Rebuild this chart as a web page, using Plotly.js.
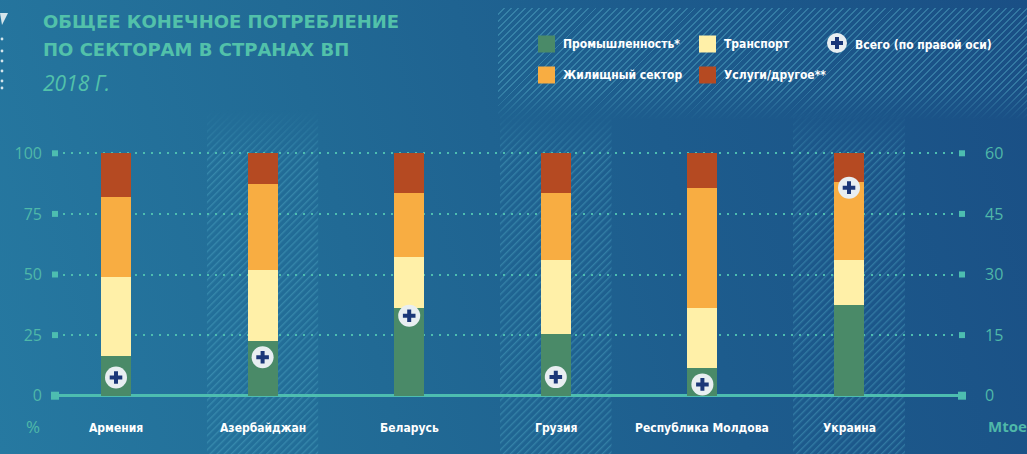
<!DOCTYPE html>
<html>
<head>
<meta charset="utf-8">
<script src="https://cdn.plot.ly/plotly-3.0.1.min.js"></script>
<style>
html,body{margin:0;padding:0;width:1027px;height:454px;overflow:hidden;}
body{position:relative;background:linear-gradient(75deg,#2679a1 0%,#216a95 35%,#1d5c8d 65%,#1a4f85 100%);}
#hatch{position:absolute;left:498px;top:8px;width:529px;height:112px;
 background:repeating-linear-gradient(135deg,rgba(0,0,0,0) 0px,rgba(0,0,0,0) 3.6px,rgba(90,180,205,0.40) 3.6px,rgba(90,180,205,0.40) 5px);
 -webkit-mask-image:linear-gradient(to bottom,#000 0%,#000 72%,rgba(0,0,0,0) 100%);
 mask-image:linear-gradient(to bottom,#000 0%,#000 72%,rgba(0,0,0,0) 100%);}
#deco{position:absolute;left:0;top:0;}
#chart{position:absolute;left:0;top:0;width:1027px;height:454px;}
</style>
</head>
<body>
<div id="hatch"></div>
<svg id="deco" width="20" height="100">
  <polygon points="0,13 8,13 2,25" fill="#d5e6ec"/>
  <circle cx="2" cy="39" r="1.4" fill="#d5e6ec"/>
  <circle cx="2" cy="51" r="1.4" fill="#d5e6ec"/>
  <circle cx="2" cy="61" r="1.4" fill="#d5e6ec"/>
  <circle cx="2" cy="71" r="1.4" fill="#d5e6ec"/>
  <circle cx="2" cy="81" r="1.4" fill="#d5e6ec"/>
  <circle cx="2" cy="88" r="1.4" fill="#d5e6ec"/>
</svg>
<div id="chart"></div>
<script>
// ---- data ----
const categories = ['Армения','Азербайджан','Беларусь','Грузия','Республика Молдова','Украина'];
const industry    = [16.4, 22.6, 36.2, 25.5, 11.4, 37.4];
const transport   = [32.6, 29.3, 21.0, 30.5, 24.8, 18.6];
const residential = [33.0, 35.4, 26.4, 27.6, 49.5, 32.2];
const services    = [18.0, 12.7, 16.4, 16.4, 14.3, 11.8];
const totalMtoe   = [4.5, 9.5, 19.8, 4.6, 2.8, 51.5];
const seriesNames = ['Промышленность*','Транспорт','Жилищный сектор','Услуги/другое**'];
const totalName = 'Всего (по правой оси)';
const pctTicks = [0,25,50,75,100];
const mtoeTicks = [0,15,30,45,60];
const hatchedCategories = ['Азербайджан','Грузия','Украина'];
const titleLines = ['ОБЩЕЕ КОНЕЧНОЕ ПОТРЕБЛЕНИЕ','ПО СЕКТОРАМ В СТРАНАХ ВП'];
const subtitle = '2018 Г.';
const leftUnit = '%';
const rightUnit = 'Mtoe';

// ---- styling ----
const colors = ['#4a8a68','#fff0a8','#f8ad42','#b54a22'];
const teal = '#4dbdb0';
const tickColor = '#4fb8a9';
const titleColor = '#52c1aa';
const labelFont = 'DejaVu Sans Condensed, DejaVu Sans, sans-serif';

const W = 1027, H = 454, L = 55, R = 65, T = 110, B = 0;
const pw = W - L - R, ph = H - T - B;
const px = x => (x - L) / pw;
const py = y => 1 - (y - T) / ph;

const seriesVals = [industry, transport, residential, services];
const traces = seriesVals.map((vals, i) => ({
  type:'bar', x:categories, y:vals, name:seriesNames[i], width:0.205,
  marker:{color:colors[i], line:{width:0}}, showlegend:false, hoverinfo:'skip'
}));
traces.push({type:'scatter', mode:'markers', x:categories, y:totalMtoe, yaxis:'y2', name:totalName,
  marker:{symbol:'circle', size:22, color:'#e8eef1', line:{width:0}}, cliponaxis:false, showlegend:false, hoverinfo:'skip'});
traces.push({type:'scatter', mode:'markers', x:categories, y:totalMtoe, yaxis:'y2', name:totalName,
  marker:{symbol:'cross-thin', size:9, color:'#1b3778', line:{width:4, color:'#1b3778'}}, cliponaxis:false, showlegend:false, hoverinfo:'skip'});

// hatch band image
const bandW = 112, bandH = ph;
const bandSvg = "<svg xmlns='http://www.w3.org/2000/svg' width='"+bandW+"' height='"+bandH+"' viewBox='0 0 "+bandW+" "+bandH+"' preserveAspectRatio='none'>"+
 "<defs><pattern id='p' width='5' height='5' patternUnits='userSpaceOnUse' patternTransform='rotate(45)'>"+
 "<rect width='1.4' height='5' fill='rgb(90,180,205)' fill-opacity='0.36'/></pattern>"+
 "<linearGradient id='g' x1='0' y1='0' x2='0' y2='1'><stop offset='0' stop-color='white' stop-opacity='0'/><stop offset='0.14' stop-color='white' stop-opacity='1'/><stop offset='1' stop-color='white' stop-opacity='1'/></linearGradient>"+
 "<mask id='m'><rect width='"+bandW+"' height='"+bandH+"' fill='url(#g)'/></mask></defs>"+
 "<rect width='"+bandW+"' height='"+bandH+"' fill='url(#p)' mask='url(#m)'/></svg>";
const bandSrc = 'data:image/svg+xml;charset=utf-8,' + encodeURIComponent(bandSvg);
const catStep = 146.6;
const images = hatchedCategories.map(c => ({
  source:bandSrc, xref:'x', yref:'paper', x:categories.indexOf(c), xanchor:'center',
  sizex:bandW/catStep, y:1, yanchor:'top', sizey:1, sizing:'stretch', layer:'below'
}));

// tick squares
const shapes = [];
pctTicks.forEach(v => { const s = v===0?4:3;
  shapes.push({type:'rect', xref:'paper', xsizemode:'pixel', xanchor:0, x0:-s, x1:s,
    yref:'y', ysizemode:'pixel', yanchor:v, y0:-s, y1:s, fillcolor:teal, line:{width:0}, layer:'above'}); });
mtoeTicks.forEach(v => { const s = v===0?4:3;
  shapes.push({type:'rect', xref:'paper', xsizemode:'pixel', xanchor:1, x0:-s, x1:s,
    yref:'y2', ysizemode:'pixel', yanchor:v, y0:-s, y1:s, fillcolor:teal, line:{width:0}, layer:'above'}); });

// custom legend
const legendPos = [[538,44],[699,44],[538,75],[699,75]];
const annotations = [];
seriesNames.forEach((n,i) => {
  const [lx, ly] = legendPos[i];
  shapes.push({type:'rect', xref:'paper', yref:'paper', x0:px(lx), x1:px(lx+17), y0:py(ly-8.5), y1:py(ly+8.5),
    fillcolor:colors[i], line:{width:0}});
  annotations.push({xref:'paper', yref:'paper', x:px(lx+23), y:py(ly), xanchor:'left', yanchor:'middle', showarrow:false,
    text:'<b>'+n+'</b>', font:{family:labelFont, size:12, color:'#ffffff'}});
});
// total legend symbol
shapes.push({type:'circle', xref:'paper', yref:'paper', x0:px(827), x1:px(847), y0:py(53), y1:py(33), fillcolor:'#e8eef1', line:{width:0}});
shapes.push({type:'rect', xref:'paper', yref:'paper', x0:px(831), x1:px(843), y0:py(45), y1:py(41), fillcolor:'#1b3778', line:{width:0}});
shapes.push({type:'rect', xref:'paper', yref:'paper', x0:px(835), x1:px(839), y0:py(49), y1:py(37), fillcolor:'#1b3778', line:{width:0}});
annotations.push({xref:'paper', yref:'paper', x:px(853), y:py(45), xanchor:'left', yanchor:'middle', showarrow:false,
  text:'<b>'+totalName+'</b>', font:{family:labelFont, size:12, color:'#ffffff'}});

// titles
annotations.push({xref:'paper', yref:'paper', x:px(41), y:py(21.5), xanchor:'left', yanchor:'middle', showarrow:false,
  text:'<b>'+titleLines[0]+'</b>', font:{family:'DejaVu Sans', size:18, color:titleColor}});
annotations.push({xref:'paper', yref:'paper', x:px(41), y:py(50), xanchor:'left', yanchor:'middle', showarrow:false,
  text:'<b>'+titleLines[1]+'</b>', font:{family:'DejaVu Sans', size:18, color:titleColor}});
annotations.push({xref:'paper', yref:'paper', x:px(41), y:py(83), xanchor:'left', yanchor:'middle', showarrow:false,
  text:'<i>'+subtitle+'</i>', font:{family:'Open Sans', size:21, color:titleColor}});

// category labels
categories.forEach(c => annotations.push({xref:'x', yref:'paper', x:c, y:py(428), xanchor:'center', yanchor:'middle',
  showarrow:false, text:'<b>'+c+'</b>', font:{family:labelFont, size:12, color:'#ffffff'}}));

// units
annotations.push({xref:'paper', yref:'paper', x:px(33), y:py(426), xanchor:'center', yanchor:'middle', showarrow:false,
  text:leftUnit, font:{family:'Open Sans', size:17, color:tickColor}});
annotations.push({xref:'paper', yref:'paper', x:px(986), y:py(426), xanchor:'left', yanchor:'middle', showarrow:false,
  text:'<b>'+rightUnit+'</b>', font:{family:'Open Sans', size:15, color:tickColor}});

const layout = {
  width:W, height:H, margin:{l:L, r:R, t:T, b:B, pad:0},
  paper_bgcolor:'rgba(0,0,0,0)', plot_bgcolor:'rgba(0,0,0,0)',
  barmode:'stack', showlegend:false,
  xaxis:{type:'category', range:[(L-116)/catStep, (L+pw-116)/catStep], showgrid:false, zeroline:false, showline:false,
    showticklabels:false, ticks:'', fixedrange:true},
  yaxis:{range:[-(454-395.7)/2.424, (395.7-T)/2.424], tickvals:pctTicks, ticks:'', showline:false,
    showgrid:true, gridcolor:teal, gridwidth:2, griddash:'2px,6px',
    zeroline:true, zerolinecolor:teal, zerolinewidth:3,
    tickfont:{family:'Open Sans', size:16, color:tickColor}, ticklabelstandoff:12, fixedrange:true},
  yaxis2:{overlaying:'y', side:'right', range:[-(454-395.7)/4.04, (395.7-T)/4.04], tickvals:mtoeTicks, ticks:'',
    showgrid:false, zeroline:false, showline:false,
    tickfont:{family:'Open Sans', size:16, color:tickColor}, ticklabelstandoff:22, fixedrange:true},
  images:images, shapes:shapes, annotations:annotations
};

Plotly.newPlot('chart', traces, layout, {staticPlot:true, displayModeBar:false});
</script>
</body>
</html>
